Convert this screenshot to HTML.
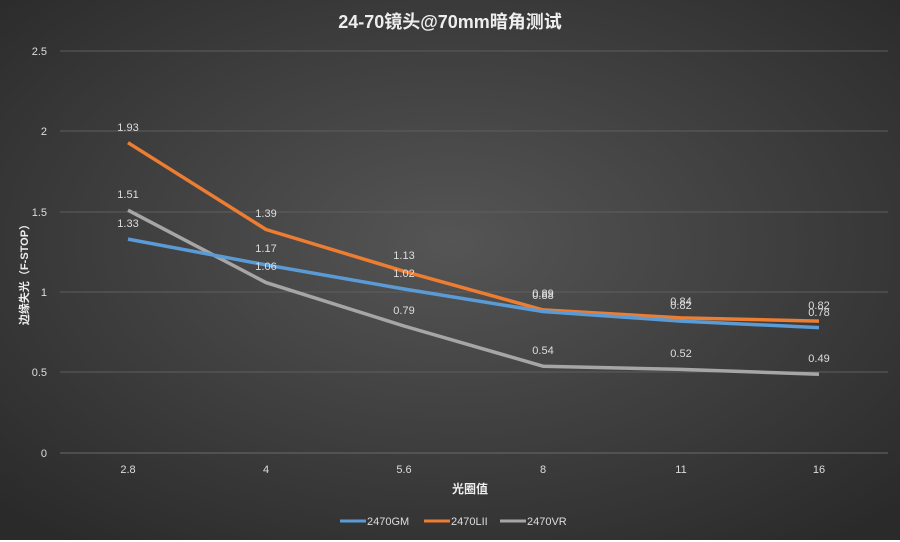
<!DOCTYPE html>
<html><head><meta charset="utf-8"><style>
html,body{margin:0;padding:0;width:900px;height:542px;overflow:hidden;background:#fff}
</style></head><body>
<svg width="900" height="542" xmlns="http://www.w3.org/2000/svg" font-family="'Liberation Sans','Noto Sans CJK SC',sans-serif">
<defs><radialGradient id="bg" cx="50%" cy="45%" r="70%">
<stop offset="0" stop-color="#555"/><stop offset="1" stop-color="#2a2a2a"/></radialGradient></defs>
<rect x="0" y="0" width="900" height="540" fill="url(#bg)"/>
<g stroke="#5e5e5e" stroke-width="1">
<line x1="60" x2="888" y1="51" y2="51"/><line x1="60" x2="888" y1="131" y2="131"/>
<line x1="60" x2="888" y1="212" y2="212"/><line x1="60" x2="888" y1="292" y2="292"/>
<line x1="60" x2="888" y1="372" y2="372"/><line x1="60" x2="888" y1="453" y2="453" stroke="#6a6a6a"/>
</g>
<text x="450" y="28" fill="#eee" font-size="18" font-weight="bold" text-anchor="middle">24-70镜头@70mm暗角测试</text>
<g fill="#ddd" font-size="11" text-anchor="end">
<text x="47" y="55">2.5</text><text x="47" y="135">2</text><text x="47" y="216">1.5</text>
<text x="47" y="296">1</text><text x="47" y="376">0.5</text><text x="47" y="457">0</text>
</g>
<g fill="#ddd" font-size="11" text-anchor="middle">
<text x="128" y="473">2.8</text><text x="266" y="473">4</text><text x="404" y="473">5.6</text>
<text x="543" y="473">8</text><text x="681" y="473">11</text><text x="819" y="473">16</text>
</g>
<text x="470" y="493" fill="#eee" font-size="12" font-weight="bold" text-anchor="middle">光圈值</text>
<text transform="translate(28,272) rotate(-90)" fill="#eee" font-size="11" font-weight="bold" text-anchor="middle">边缘失光（F-STOP）</text>
<g fill="none" stroke-width="3.5" stroke-linejoin="round">
<polyline stroke="#a6a6a6" points="128,210.2 266,282.6 404,326 543,366.2 681,369.4 819,374.2"/>
<polyline stroke="#ed7d31" points="128,142.7 266,229.5 404,271.3 543,309.9 681,317.9 819,321.1"/>
<polyline stroke="#5b9bd5" points="128,239.1 266,264.9 404,289 543,311.5 681,321.1 819,327.6"/>
</g>
<g fill="#ddd" font-size="11" text-anchor="middle">
<text x="128" y="131">1.93</text><text x="266" y="217">1.39</text><text x="404" y="259">1.13</text>
<text x="543" y="297">0.89</text><text x="681" y="305">0.84</text><text x="819" y="309">0.82</text>
<text x="128" y="198">1.51</text><text x="266" y="270">1.06</text><text x="404" y="314">0.79</text>
<text x="543" y="354">0.54</text><text x="681" y="357">0.52</text><text x="819" y="362">0.49</text>
<text x="128" y="227">1.33</text><text x="266" y="252">1.17</text><text x="404" y="277">1.02</text>
<text x="543" y="299">0.88</text><text x="681" y="309">0.82</text><text x="819" y="316">0.78</text>
</g>
<g font-size="11" fill="#ddd">
<line x1="340" x2="366" y1="521" y2="521" stroke="#5b9bd5" stroke-width="3"/><text x="367" y="525">2470GM</text>
<line x1="424" x2="450" y1="521" y2="521" stroke="#ed7d31" stroke-width="3"/><text x="451" y="525">2470LII</text>
<line x1="500" x2="526" y1="521" y2="521" stroke="#a6a6a6" stroke-width="3"/><text x="527" y="525">2470VR</text>
</g>
</svg>
</body></html>
